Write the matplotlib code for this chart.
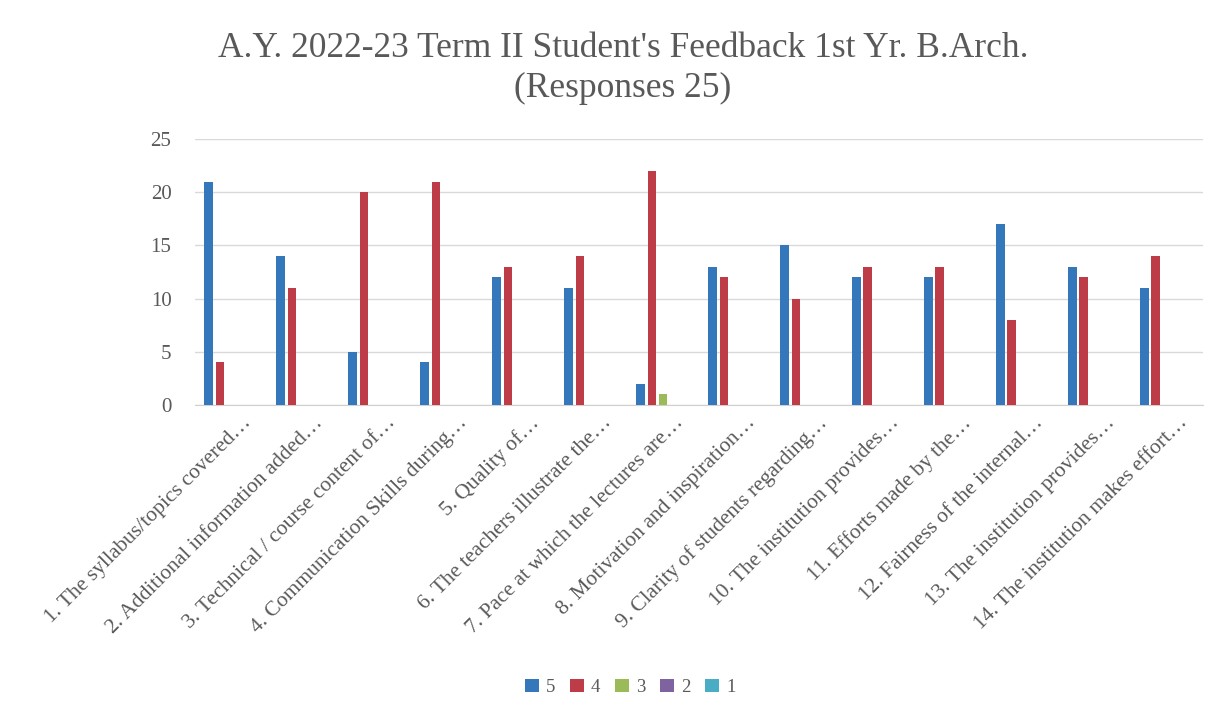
import matplotlib.pyplot as plt
import numpy as np

plt.rcParams.update({
    'font.family': 'Liberation Serif',
})

categories = [
    "1. The syllabus/topics covered…",
    "2. Additional information added…",
    "3. Technical / course content of…",
    "4. Communication Skills during…",
    "5. Quality of…",
    "6. The teachers illustrate the…",
    "7. Pace at which the lectures are…",
    "8. Motivation and inspiration…",
    "9. Clarity of students regarding…",
    "10. The institution provides…",
    "11. Efforts made by the…",
    "12. Fairness of the internal…",
    "13. The institution provides…",
    "14. The institution makes effort…",
]
series_names = ['5', '4', '3', '2', '1']
s5 = [21, 14, 5, 4, 12, 11, 2, 13, 15, 12, 12, 17, 13, 11]
s4 = [4, 11, 20, 21, 13, 14, 22, 12, 10, 13, 13, 8, 12, 14]
s3 = [0, 0, 0, 0, 0, 0, 1, 0, 0, 0, 0, 0, 0, 0]
s2 = [0] * 14
s1 = [0] * 14
colors = ['#3477BA', '#BE3B48', '#9BBB59', '#7F62A0', '#4BACC6']
text_grey = '#595959'

fig = plt.figure(figsize=(12.29, 7.2), dpi=100)
ax = fig.add_axes([0.1587, 0.4375, 0.820, 0.3695])

x = np.arange(len(categories))
pitch = 0.155
width = 0.118
for i, (vals, name) in enumerate(zip([s5, s4, s3, s2, s1], series_names)):
    ax.bar(x + (i - 2) * pitch, vals, width, color=colors[i], label=name, zorder=3)

ax.set_xlim(-0.5, len(categories) - 0.5)
ax.set_ylim(0, 25)
ax.set_yticks(range(0, 26, 5))
ax.grid(axis='y', color='#d9d9d9', linewidth=1, zorder=0)
for sp in ['top', 'right', 'left']:
    ax.spines[sp].set_visible(False)
ax.spines['bottom'].set_color('#d0d0d0')
ax.tick_params(axis='both', length=0, colors=text_grey)
ax.tick_params(axis='y', pad=17, labelsize=15)
ax.tick_params(axis='x', pad=6)
ax.set_xticks(x + 0.15)
ax.set_xticklabels(categories, rotation=45, ha='right', rotation_mode='anchor', fontsize=15.5)

fig.text(0.507, 0.933, "A.Y. 2022-23 Term II Student's Feedback 1st Yr. B.Arch.",
         ha='center', va='center', fontsize=25.5, color=text_grey)
fig.text(0.507, 0.877, "(Responses 25)",
         ha='center', va='center', fontsize=25.5, color=text_grey)

leg = fig.legend(loc='center', bbox_to_anchor=(0.513, 0.045), ncol=5, frameon=False,
                 fontsize=13.5, handlelength=0.7, handleheight=0.7, handletextpad=0.4,
                 columnspacing=0.8, labelcolor=text_grey)

fig.savefig('out.png', dpi=100)
